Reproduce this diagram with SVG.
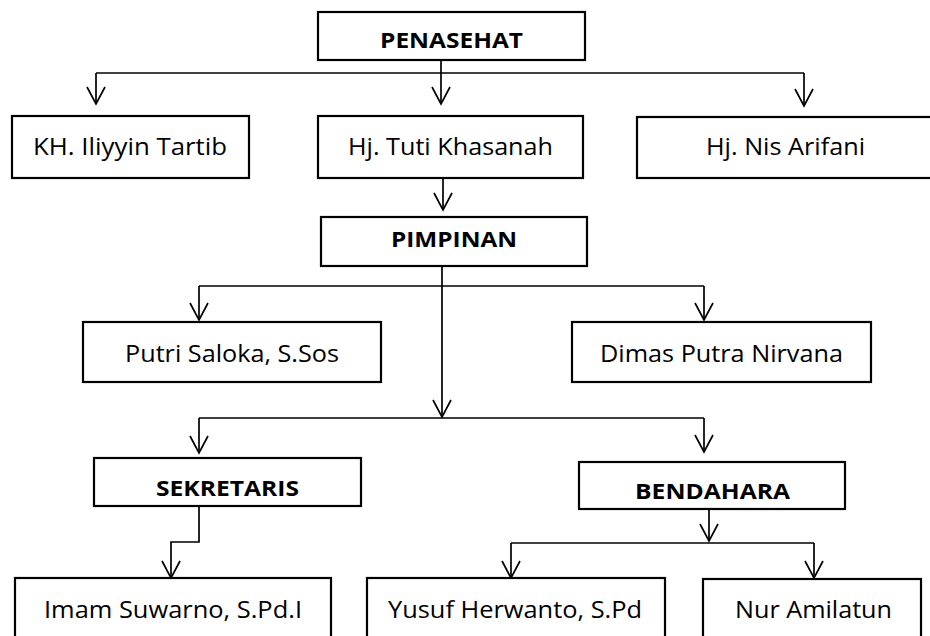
<svg xmlns="http://www.w3.org/2000/svg" width="930" height="636" viewBox="0 0 930 636">
<style>
.box{fill:#fff;stroke:#000;stroke-width:2.2}
.t{font-family:"Open Sans","Noto Sans","DejaVu Sans",sans-serif;font-size:24px;fill:#000;text-anchor:start}
.b{font-weight:bold;font-size:21px}
.c{fill:none;stroke:#000;stroke-width:1.7}
.a{marker-end:url(#arr)}
</style>
<defs>
<marker id="arr" markerUnits="userSpaceOnUse" orient="auto" refX="0" refY="0" overflow="visible">
<path d="M-17,-9 L0,0 L-17,9" fill="none" stroke="#000" stroke-width="1.7"/>
</marker>
</defs>
<rect width="930" height="636" fill="#fff"/>
<g id="connectors">
<path class="c a" d="M441,60 V104"/>
<path class="c" d="M96,73 H804"/>
<path class="c a" d="M96,73 V104"/>
<path class="c a" d="M804,73 V106"/>
<path class="c a" d="M443,178 V210"/>
<path class="c a" d="M442,266 V417"/>
<path class="c" d="M199,286 H704"/>
<path class="c a" d="M199,286 V320"/>
<path class="c a" d="M704,286 V320"/>
<path class="c" d="M199,418 H704"/>
<path class="c a" d="M199,418 V453"/>
<path class="c a" d="M704,418 V452"/>
<path class="c a" d="M199,506 V542 H171 V578"/>
<path class="c a" d="M709,506 V541"/>
<path class="c" d="M511,543 H814"/>
<path class="c a" d="M511,543 V578"/>
<path class="c a" d="M814,543 V578"/>
</g>
<g id="penasehat"><rect class="box" x="318" y="12" width="267" height="48"/><text class="t b" x="380" y="48" textLength="143" lengthAdjust="spacingAndGlyphs">PENASEHAT</text></g>
<g id="kh-iliyyin"><rect class="box" x="12" y="116" width="237" height="62"/><text class="t" x="33" y="155" textLength="194" lengthAdjust="spacingAndGlyphs">KH. Iliyyin Tartib</text></g>
<g id="hj-tuti"><rect class="box" x="318" y="116" width="265" height="62"/><text class="t" x="348" y="155" textLength="205" lengthAdjust="spacingAndGlyphs">Hj. Tuti Khasanah</text></g>
<g id="hj-nis"><rect class="box" x="637" y="117" width="300" height="61"/><text class="t" x="706" y="155" textLength="159" lengthAdjust="spacingAndGlyphs">Hj. Nis Arifani</text></g>
<g id="pimpinan"><rect class="box" x="321" y="217" width="266" height="49"/><text class="t b" x="391" y="247" textLength="126" lengthAdjust="spacingAndGlyphs">PIMPINAN</text></g>
<g id="putri"><rect class="box" x="83" y="322" width="298" height="60"/><text class="t" x="125" y="362" textLength="214" lengthAdjust="spacingAndGlyphs">Putri Saloka, S.Sos</text></g>
<g id="dimas"><rect class="box" x="572" y="322" width="299" height="60"/><text class="t" x="600" y="362" textLength="243" lengthAdjust="spacingAndGlyphs">Dimas Putra Nirvana</text></g>
<g id="sekretaris"><rect class="box" x="94" y="458" width="267" height="48"/><text class="t b" x="156" y="496" textLength="143" lengthAdjust="spacingAndGlyphs">SEKRETARIS</text></g>
<g id="bendahara"><rect class="box" x="579" y="462" width="266" height="47"/><text class="t b" x="635" y="499" textLength="155" lengthAdjust="spacingAndGlyphs">BENDAHARA</text></g>
<g id="imam"><rect class="box" x="15" y="578" width="316" height="70"/><text class="t" x="44" y="618" textLength="258" lengthAdjust="spacingAndGlyphs">Imam Suwarno, S.Pd.I</text></g>
<g id="yusuf"><rect class="box" x="367" y="578" width="298" height="70"/><text class="t" x="388" y="618" textLength="254" lengthAdjust="spacingAndGlyphs">Yusuf Herwanto, S.Pd</text></g>
<g id="nur"><rect class="box" x="703" y="579" width="218" height="70"/><text class="t" x="735" y="618" textLength="157" lengthAdjust="spacingAndGlyphs">Nur Amilatun</text></g>
</svg>
